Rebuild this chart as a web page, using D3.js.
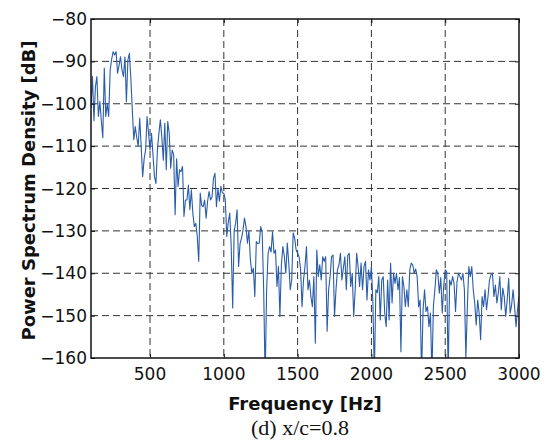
<!DOCTYPE html>
<html>
<head>
<meta charset="utf-8">
<script src="https://cdn.jsdelivr.net/npm/d3@7"></script>
<style>
  body { margin: 0; background: #fff; }
  svg { display: block; }
  .tick-label { font-family: "DejaVu Sans", sans-serif; font-size: 17px; fill: #111; }
  .axis-title { font-family: "DejaVu Sans", sans-serif; font-size: 18px; font-weight: bold; fill: #111; }
  .caption { font-family: "Liberation Serif", "Times New Roman", serif; font-size: 22px; fill: #111; }
</style>
</head>
<body>
<svg id="chart"></svg>
<script>
// frequency axis: 100 Hz to 3000 Hz, one value every 10 Hz
const freqs = d3.range(100, 3001, 10);

// power spectrum density [dB]
const psd = [
  -101, -93.6, -104, -96, -93.6, -103, -99.5, -104, -108, -91.6,
  -103, -100, -103, -92, -89.5, -87.7, -88.5, -87.7, -92.8, -91,
  -88.9, -92, -93.6, -89, -99.5, -89.7, -88.1, -94, -101.5, -108.5,
  -105.4, -108, -110, -103.4, -110, -117.2, -113, -110.9, -103, -107,
  -110.9, -107, -112, -117.2, -118.8, -110.9, -107, -103.8, -108, -113.3,
  -104.6, -115.6, -104.2, -107, -115.2, -110.9, -112, -126.2, -113, -119.5,
  -115.6, -116, -114.8, -126.6, -122.7, -122.7, -119.2, -125, -120.3, -125.8,
  -129, -128.2, -131.3, -137.2, -121.1, -124, -124.3, -122.7, -127, -123,
  -120.7, -122.7, -122, -117.6, -116.4, -124.3, -120, -123, -119.5, -121,
  -121.1, -122.7, -131.3, -128, -125.8, -133.7, -148.2, -130, -128.2, -125,
  -138.4, -133, -131.7, -129.8, -127, -129, -132.9, -130, -136.8, -140,
  -138.8, -145.5, -132.5, -133, -132.9, -129, -130.5, -143.9, -165, -143.9,
  -135.3, -133.7, -135, -130.2, -135.3, -134.5, -143.1, -138.4, -150.2, -138,
  -133.7, -136, -140, -132.9, -137.6, -143.9, -141.6, -130.5, -131.7, -134.5,
  -135.3, -136.1, -139, -147.9, -141.6, -138.4, -133.7, -143.9, -141.6, -145.5,
  -147.9, -140.8, -156.5, -134.5, -140.8, -138, -141.6, -136.1, -137.2, -136.1,
  -153.7, -143.9, -140.8, -136.1, -135.7, -150.2, -143.9, -139.2, -138, -135.3,
  -141.6, -138.8, -136.1, -143.9, -135.7, -135.3, -143.1, -140, -150.2, -143.9,
  -135.3, -138.4, -143.1, -137.6, -143.9, -138.4, -137.2, -146.3, -139.2, -141.6,
  -138.4, -147, -164, -143.9, -144.6, -140.8, -151, -141.6, -140.8, -149.4,
  -152.6, -141.6, -151, -137.6, -147, -140, -142.4, -140, -143.9, -141,
  -158.5, -140.8, -143.1, -147.9, -143.9, -147.9, -139.2, -137.6, -138, -140,
  -139, -140.8, -147.9, -146.3, -164, -148.6, -143.9, -149, -147.9, -152.6,
  -149.4, -164, -147.9, -143.9, -139.2, -140, -144.7, -141, -149.4, -143,
  -139.2, -139.6, -164, -141.6, -142.8, -140.8, -142.4, -149, -142, -140,
  -140.8, -141.6, -140, -143.9, -160, -147.9, -138.4, -140.8, -138.4, -143.9,
  -147, -152.2, -146.3, -149.4, -155.7, -145.5, -147.9, -143.9, -148.6, -145.5,
  -141.6, -140.4, -140, -145.5, -142.8, -147, -144.6, -140.8, -148.6, -143.5,
  -145.5, -150.2, -146.3, -141.2, -149.4, -147.5, -143.9, -147.9, -152.6, -148.6,
  -145.5
];

const xTicks = [500, 1000, 1500, 2000, 2500, 3000];
const yTicks = [-80, -90, -100, -110, -120, -130, -140, -150, -160];

const width = 547, height = 442;
const margin = { top: 19, right: 28, bottom: 84, left: 91 };
const w = width - margin.left - margin.right,
      h = height - margin.top - margin.bottom;

const svg = d3.select("#chart").attr("width", width).attr("height", height);
const g = svg.append("g").attr("transform", `translate(${margin.left},${margin.top})`);

const x = d3.scaleLinear().domain([100, 3000]).range([0, w]);
const y = d3.scaleLinear().domain([-160, -80]).range([h, 0]);

const minus = s => String(s).replace("-", "\u2212");

// grid
g.selectAll(".vgrid")
  .data(xTicks.filter(d => d < 3000))
  .enter().append("line")
  .attr("x1", d => x(d)).attr("x2", d => x(d))
  .attr("y1", 0).attr("y2", h)
  .attr("stroke", "#333").attr("stroke-width", 1).attr("stroke-dasharray", "7,4");

g.selectAll(".hgrid")
  .data(yTicks.filter(d => d > -160 && d < -80))
  .enter().append("line")
  .attr("x1", 0).attr("x2", w)
  .attr("y1", d => y(d)).attr("y2", d => y(d))
  .attr("stroke", "#333").attr("stroke-width", 1).attr("stroke-dasharray", "7,4");

// line
g.append("clipPath").attr("id", "clip")
  .append("rect").attr("width", w).attr("height", h);

const line = d3.line()
  .x((d, i) => x(freqs[i]))
  .y(d => y(d));

g.append("path")
  .datum(psd)
  .attr("clip-path", "url(#clip)")
  .attr("fill", "none")
  .attr("stroke", "#2a5caa")
  .attr("stroke-width", 1.1)
  .attr("stroke-linejoin", "round")
  .attr("d", line);

// axes (inward ticks on all sides)
const xAxis = d3.axisBottom(x).tickValues(xTicks).tickSizeInner(-4).tickSizeOuter(0).tickFormat("");
const yAxis = d3.axisLeft(y).tickValues(yTicks).tickSizeInner(-4).tickSizeOuter(0).tickFormat("");
g.append("g").attr("transform", `translate(0,${h})`).call(xAxis);
g.append("g").call(d3.axisTop(x).tickValues(xTicks).tickSizeInner(-4).tickSizeOuter(0).tickFormat(""));
g.append("g").call(yAxis);
g.append("g").attr("transform", `translate(${w},0)`)
  .call(d3.axisRight(y).tickValues(yTicks).tickSizeInner(-4).tickSizeOuter(0).tickFormat(""));
g.selectAll(".domain").remove();
g.selectAll(".tick line").attr("stroke", "#111");

g.append("rect")
  .attr("width", w).attr("height", h)
  .attr("fill", "none").attr("stroke", "#111").attr("stroke-width", 1.5);

// tick labels
g.selectAll(".xlab")
  .data(xTicks)
  .enter().append("text")
  .attr("class", "tick-label")
  .attr("x", d => x(d)).attr("y", h + 22)
  .attr("text-anchor", "middle")
  .text(d => d);

g.selectAll(".ylab")
  .data(yTicks)
  .enter().append("text")
  .attr("class", "tick-label")
  .attr("x", -4).attr("y", d => y(d))
  .attr("dy", "0.36em")
  .attr("text-anchor", "end")
  .text(d => minus(d));

// titles
g.append("text")
  .attr("class", "axis-title")
  .attr("x", w / 2).attr("y", h + 52)
  .attr("text-anchor", "middle")
  .text("Frequency [Hz]");

g.append("text")
  .attr("class", "axis-title")
  .attr("transform", `translate(-56,${h / 2 + 2}) rotate(-90)`)
  .attr("text-anchor", "middle")
  .text("Power Spectrum Density [dB]");

svg.append("text")
  .attr("class", "caption")
  .attr("x", 300).attr("y", 435)
  .attr("text-anchor", "middle")
  .text("(d) x/c=0.8");
</script>
</body>
</html>
